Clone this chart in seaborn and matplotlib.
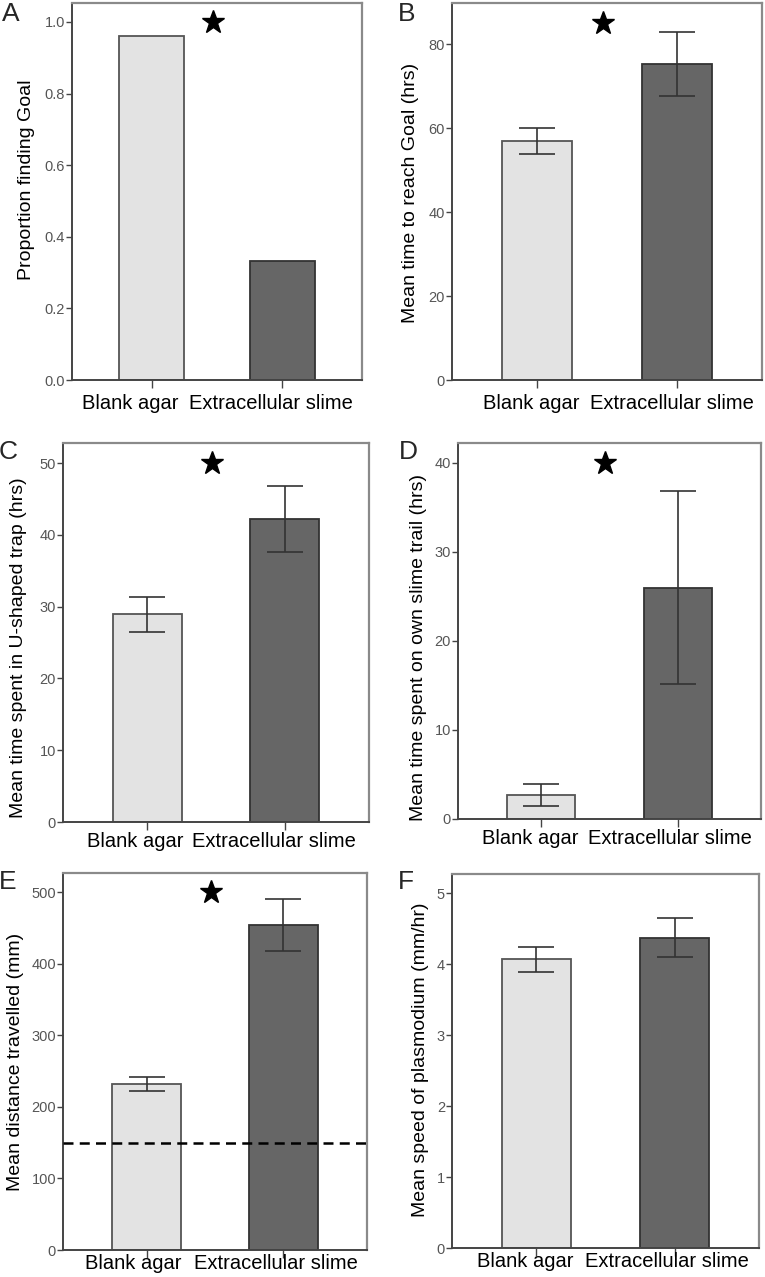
import numpy as np
import matplotlib
matplotlib.use("Agg")
import matplotlib.pyplot as plt
import matplotlib.transforms as mtransforms
import seaborn as sns

groups = ["Blank agar", "Extracellular slime"]

prop_goal = [0.96, 0.333]

time_goal = [57.0, 75.3]
time_goal_lo = [53.8, 67.6]
time_goal_hi = [60.1, 82.9]

trap_time = [29.0, 42.2]
trap_time_lo = [26.5, 37.6]
trap_time_hi = [31.4, 46.8]

trail_time = [2.65, 25.96]
trail_time_lo = [1.42, 15.2]
trail_time_hi = [3.93, 36.8]

distance = [232, 454.5]
distance_lo = [222, 418.6]
distance_hi = [242, 490.5]
distance_ref = 150

speed = [4.07, 4.37]
speed_lo = [3.89, 4.10]
speed_hi = [4.24, 4.65]

star_y = {"A": 1.0, "B": 85, "C": 50, "D": 40, "E": 500}

sns.set_style("white")
plt.rcParams["font.family"] = ["Liberation Sans", "DejaVu Sans"]

W, H = 765, 1277
fig = plt.figure(figsize=(W / 100, H / 100), dpi=100)

bar_colors = ["#e3e3e3", "#666666"]
bar_edges = ["#555555", "#333333"]


def px_rect(left, top, right, bottom):
    return [left / W, 1 - bottom / H, (right - left) / W, (bottom - top) / H]


def panel(rect, letter, letter_xy, vals, ymax, yticks, ylabel, label_xy,
          lo=None, hi=None, fmt="{:g}", xshift=(-10, -10), xpad=4):
    ax = fig.add_axes(px_rect(*rect))
    sns.barplot(x=groups, y=vals, hue=groups, palette=bar_colors,
                width=0.5, legend=False, ax=ax, errorbar=None)
    for p, ec in zip(ax.patches, bar_edges):
        p.set_edgecolor(ec)
        p.set_linewidth(1.3)
    if lo is not None:
        xs = np.arange(len(vals))
        err = [np.array(vals) - np.array(lo), np.array(hi) - np.array(vals)]
        ax.errorbar(xs, vals, yerr=err, fmt="none", ecolor="#333333",
                    elinewidth=1.2, capsize=13, capthick=1.2, zorder=5)
    if letter in star_y:
        ax.plot([0.47], [star_y[letter]], marker="*", color="black",
                markersize=17, linestyle="none", zorder=6)
    ax.set_xlim(-0.61, 1.61)
    ax.set_ylim(0, ymax)
    ax.set_yticks(yticks)
    ax.set_yticklabels([fmt.format(t) for t in yticks])
    ax.tick_params(axis="y", length=4, width=1, color="#444444",
                   labelsize=10.5, labelcolor="#555555", pad=1, direction="out")
    ax.tick_params(axis="x", length=6, width=1, color="#444444",
                   labelsize=14.5, labelcolor="black", pad=xpad, direction="out")
    ax.tick_params(left=True, bottom=True)
    for lab, dx in zip(ax.get_xticklabels(), xshift):
        shift = mtransforms.ScaledTranslation(dx / 100, 0, fig.dpi_scale_trans)
        lab.set_transform(lab.get_transform() + shift)
    ax.set_xlabel("")
    ax.set_ylabel(ylabel, fontsize=14, color="black")
    ax.yaxis.set_label_coords(*label_xy)
    for s in ["left", "bottom"]:
        ax.spines[s].set_color("#444444")
        ax.spines[s].set_linewidth(1.4)
    for s in ["top", "right"]:
        ax.spines[s].set_color("#8a8a8a")
        ax.spines[s].set_linewidth(1.6)
    fig.text(letter_xy[0] / W, 1 - letter_xy[1] / H, letter, fontsize=19,
             ha="center", va="center")
    return ax


panel((72, 3, 362, 380), "A", (11, 14), prop_goal, 1.053,
      [0, 0.2, 0.4, 0.6, 0.8, 1.0], "Proportion finding Goal", (-0.128, 0.53),
      fmt="{:.1f}", xshift=(-21, -11))

panel((452, 3, 762, 380), "B", (407, 14), time_goal, 89.8,
      [0, 20, 40, 60, 80], "Mean time to reach Goal (hrs)", (-0.106, 0.495),
      lo=time_goal_lo, hi=time_goal_hi, xshift=(-6, -5))

panel((63, 443, 369, 822), "C", (8, 452), trap_time, 52.8,
      [0, 10, 20, 30, 40, 50], "Mean time spent in U-shaped trap (hrs)",
      (-0.118, 0.459), lo=trap_time_lo, hi=trap_time_hi, xshift=(-12, -11),
      xpad=1)

panel((458, 443, 761, 819), "D", (408, 452), trail_time, 42.2,
      [0, 10, 20, 30, 40], "Mean time spent on own slime trail (hrs)",
      (-0.102, 0.456), lo=trail_time_lo, hi=trail_time_hi, xshift=(-11, -8),
      xpad=1)

axE = panel((63, 873, 367, 1250), "E", (8, 882), distance, 527,
            [0, 100, 200, 300, 400, 500], "Mean distance travelled (mm)",
            (-0.128, 0.5), lo=distance_lo, hi=distance_hi, xshift=(-13, -8),
            xpad=-3)
axE.axhline(distance_ref, color="black", linestyle=(0, (4, 2.5)), linewidth=1.8,
            zorder=4)

panel((452, 874, 759, 1248), "F", (406, 882), speed, 5.27,
      [0, 1, 2, 3, 4, 5], "Mean speed of plasmodium (mm/hr)", (-0.075, 0.503),
      lo=speed_lo, hi=speed_hi, xshift=(-11, -8), xpad=-3)

fig.savefig("out.png", dpi=100)
